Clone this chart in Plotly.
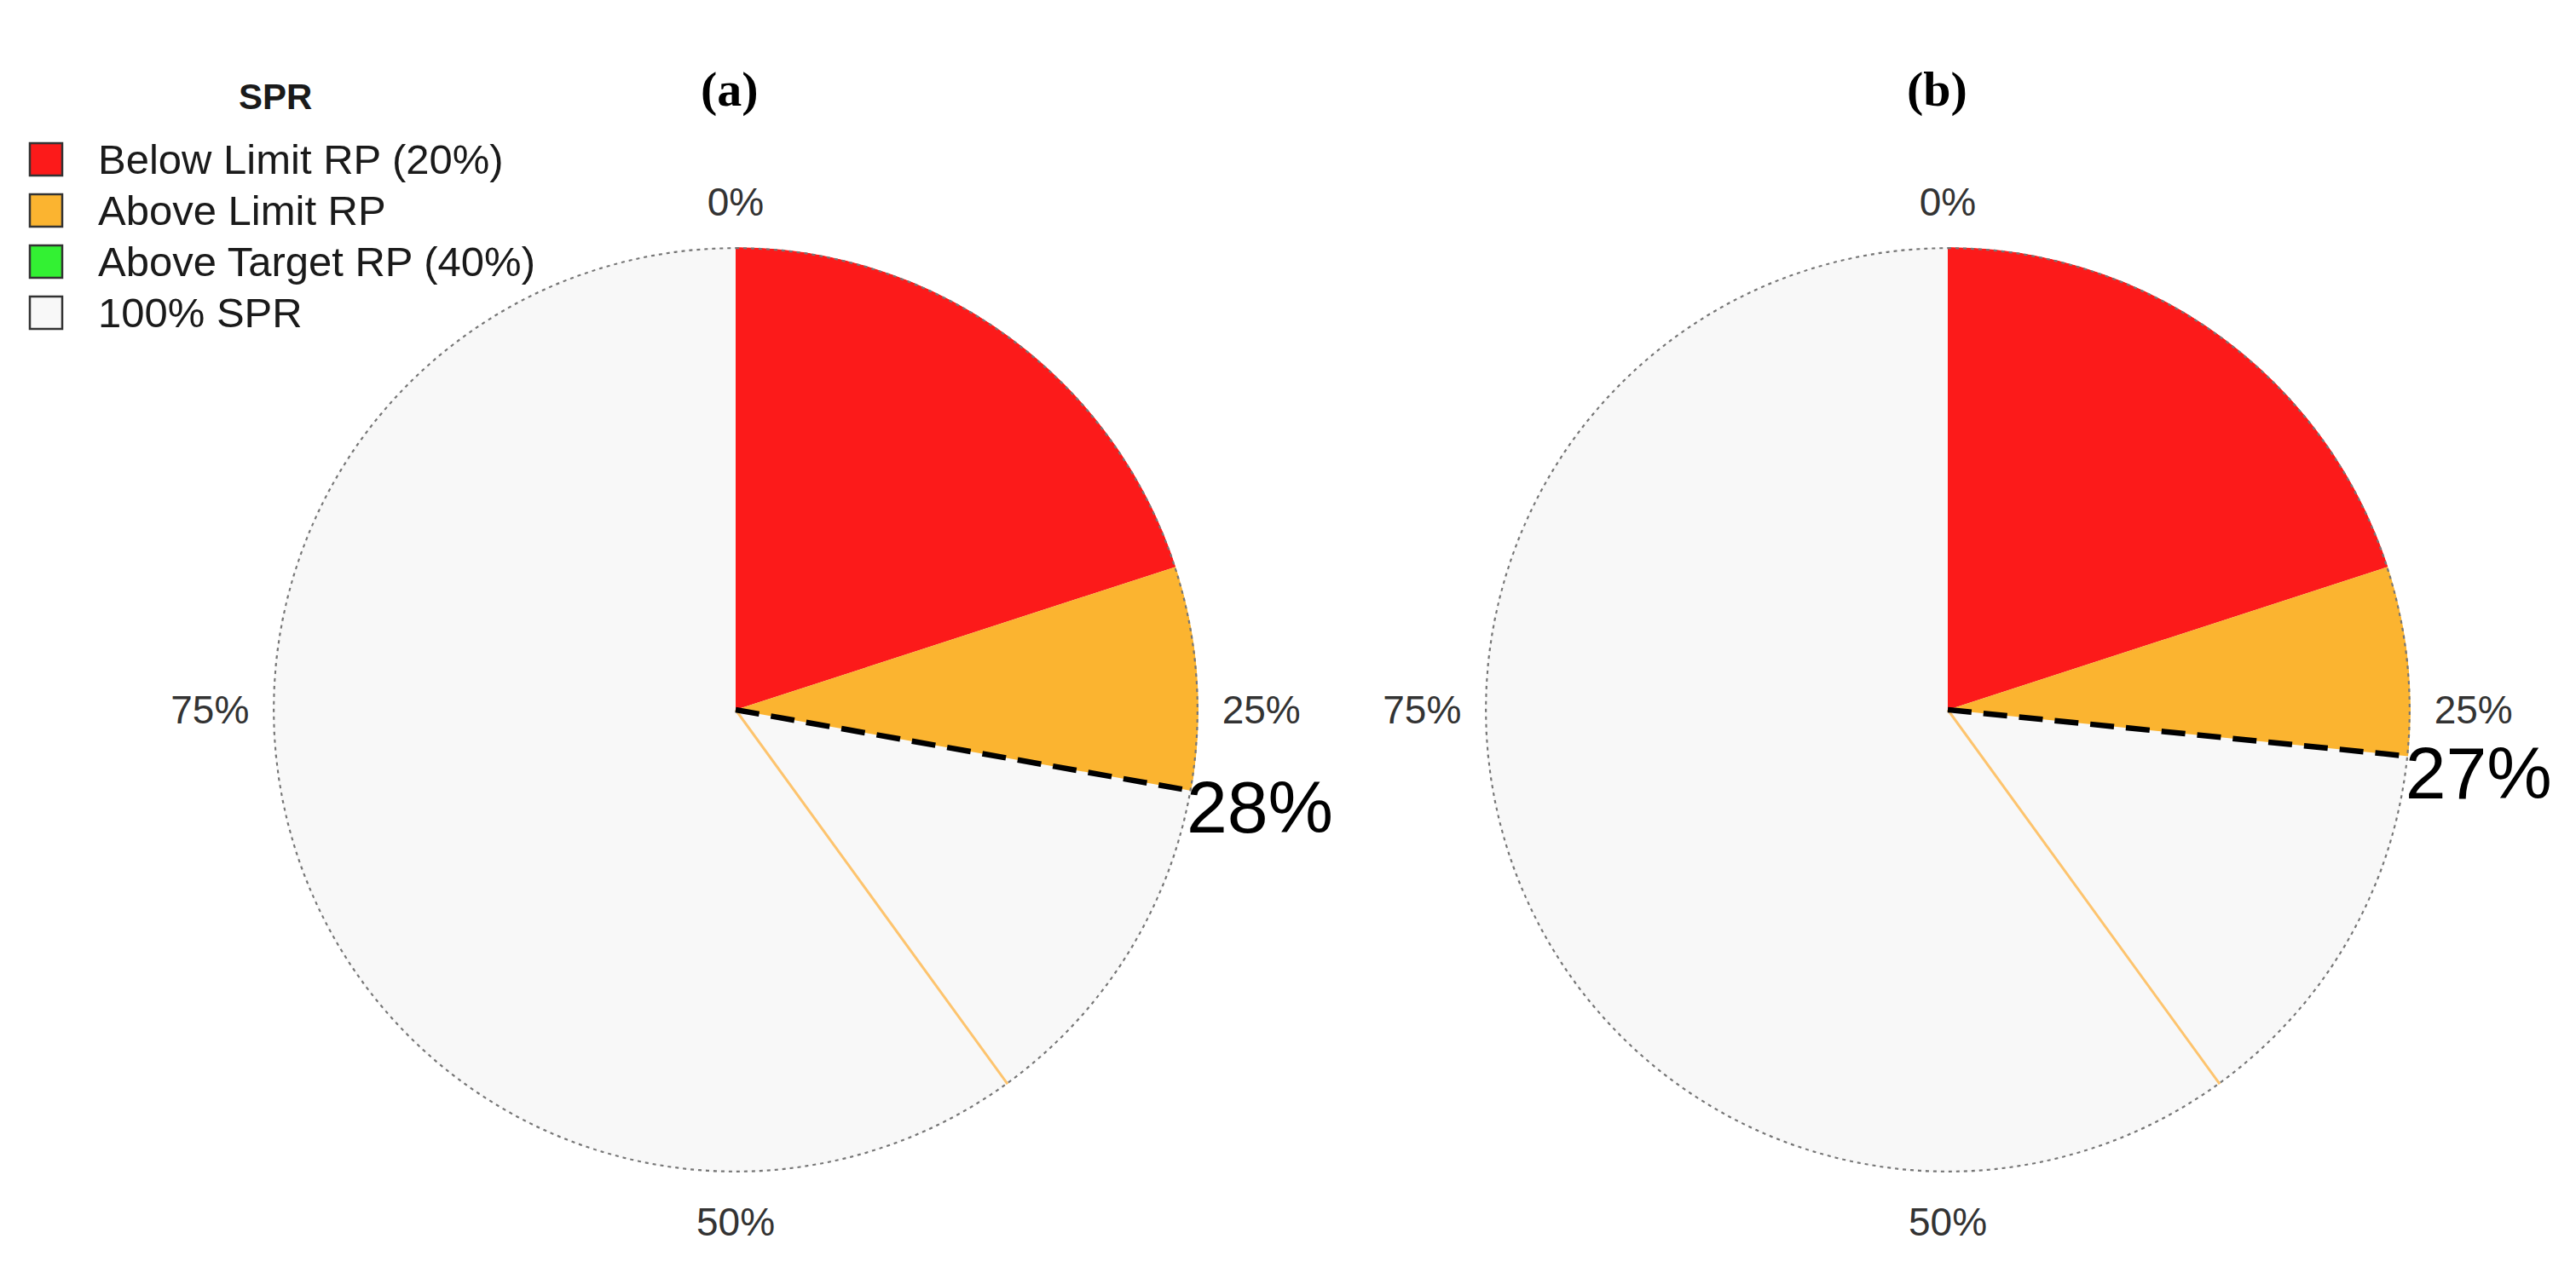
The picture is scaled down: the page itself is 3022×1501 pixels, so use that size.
import numpy as np
import plotly.graph_objects as go

# ---- data ----
panel_titles = ["(a)", "(b)"]
current_spr = [27.8, 26.6]          # % SPR (dashed line position)
limit_rp = 20                       # limit reference point (%)
target_rp = 40                      # target reference point (%)
tick_pcts = [0, 25, 50, 75]
tick_labels = ["0%", "25%", "50%", "75%"]
legend_title = "SPR"
legend_labels = ["Below Limit RP (20%)", "Above Limit RP", "Above Target RP (40%)", "100% SPR"]
legend_colors = ["#FC1A1A", "#FBB430", "#33F133", "#F8F8F8"]

RED, ORANGE, GREEN, GREY = legend_colors
DEG = 3.6  # degrees per percent
LABEL_NUDGE = 3.0  # small angular nudge so the value label sits below its line end

fig = go.Figure()
W, H = 3022, 1501

domains = [
    dict(x=[320 / W, 1406 / W], y=[1 - 1376 / H, 1 - 290 / H]),
    dict(x=[1742 / W, 2828 / W], y=[1 - 1376 / H, 1 - 290 / H]),
]

circle_theta = np.linspace(0, 360, 721)

for i in range(2):
    sub = "polar" if i == 0 else "polar2"
    fig.add_trace(go.Barpolar(
        r=[1], theta=[180], width=[360],
        marker=dict(color=GREY, line=dict(width=0)), showlegend=False,
        hoverinfo="skip", subplot=sub))

for i, spr in enumerate(current_spr):
    sub = "polar" if i == 0 else f"polar{i+1}"
    # dotted outline of 100% SPR
    fig.add_trace(go.Scatterpolar(
        r=np.ones_like(circle_theta), theta=circle_theta, mode="lines",
        line=dict(color="#767676", width=4.5, dash="4px,5px"),
        hoverinfo="skip", showlegend=False, subplot=sub))
    # below limit wedge
    fig.add_trace(go.Barpolar(
        r=[1], theta=[(0 + limit_rp) / 2 * DEG], width=[limit_rp * DEG],
        marker=dict(color=RED, line=dict(width=0)), showlegend=False, subplot=sub))
    # above limit wedge
    fig.add_trace(go.Barpolar(
        r=[1], theta=[(limit_rp + spr) / 2 * DEG], width=[(spr - limit_rp) * DEG],
        marker=dict(color=ORANGE, line=dict(width=0)), showlegend=False, subplot=sub))
    # target RP line
    fig.add_trace(go.Scatterpolar(
        r=[0, 1], theta=[target_rp * DEG] * 2, mode="lines",
        line=dict(color="#FDC46E", width=3), hoverinfo="skip",
        showlegend=False, subplot=sub))
    # current SPR dashed line
    fig.add_trace(go.Scatterpolar(
        r=[0, 1], theta=[spr * DEG] * 2, mode="lines",
        line=dict(color="black", width=6.5, dash="28px,14px"), hoverinfo="skip",
        showlegend=False, subplot=sub))
    # label
    fig.add_trace(go.Scatterpolar(
        r=[1], theta=[spr * DEG + LABEL_NUDGE], mode="text", text=[f"{round(spr)}%"],
        textposition="middle right",
        textfont=dict(size=86, family="Liberation Sans", color="black"),
        hoverinfo="skip", showlegend=False, subplot=sub))

polar_common = dict(
    bgcolor="rgba(0,0,0,0)",
    barmode="overlay",
    hole=0,
    radialaxis=dict(visible=False, range=[0, 1]),
    angularaxis=dict(
        direction="clockwise", rotation=90,
        tickmode="array", tickvals=[p * DEG for p in tick_pcts], ticktext=tick_labels,
        showgrid=False, showline=False,
        ticks="outside", ticklen=18, tickcolor="rgba(0,0,0,0)",
        tickfont=dict(size=46, family="Liberation Sans", color="#333333"),
    ),
)

layout = dict(
    width=W, height=H,
    margin=dict(l=0, r=0, t=0, b=0),
    paper_bgcolor="white", plot_bgcolor="white",
    showlegend=False,
)
layout["polar"] = dict(domain=domains[0], **polar_common)
layout["polar2"] = dict(domain=domains[1], **polar_common)
fig.update_layout(**layout)

# panel titles
title_x = [856, 2272]
for t, x in zip(panel_titles, title_x):
    fig.add_annotation(
        text=f"<b>{t}</b>", x=x / W, y=1 - 104 / H, xref="paper", yref="paper",
        showarrow=False, xanchor="center", yanchor="middle",
        font=dict(size=58, family="Liberation Serif", color="black"))

# manual legend (large square keys)
fig.add_annotation(
    text=f"<b>{legend_title}</b>", x=323 / W, y=1 - 113 / H, xref="paper", yref="paper",
    showarrow=False, xanchor="center", yanchor="middle",
    font=dict(size=42, family="Liberation Sans", color="#1a1a1a"))
for k, (lab, col) in enumerate(zip(legend_labels, legend_colors)):
    yc = 187 + 60 * k
    fig.add_shape(type="rect", xref="paper", yref="paper",
                  x0=35 / W, x1=73 / W, y0=1 - (yc - 19) / H, y1=1 - (yc + 19) / H,
                  fillcolor=col, line=dict(color="#333333", width=2.5))
    fig.add_annotation(
        text=lab, x=113 / W, y=1 - yc / H, xref="paper", yref="paper",
        showarrow=False, xanchor="left", yanchor="middle",
        font=dict(size=49, family="Liberation Sans", color="#1a1a1a"))

fig.write_html("out.html", config={"displayModeBar": False},
               post_script="document.body.style.margin='0';")
